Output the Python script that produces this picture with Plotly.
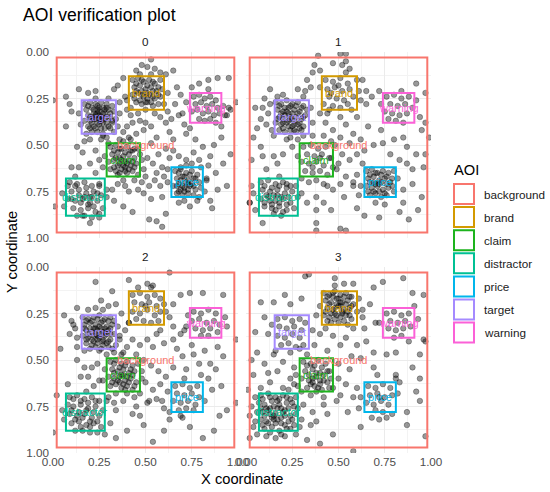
import plotly.graph_objects as go

# AOI definitions (same boxes in every panel)
aoi_names = ["background", "brand", "claim", "distractor", "price", "target", "warning"]
aoi_colors = ["#F8766D", "#D49A00", "#1DB31D", "#00C094", "#00B6EB", "#A58AFF", "#FB61D7"]
aoi_xmin = [0.02, 0.41, 0.29, 0.07, 0.64, 0.155, 0.74]
aoi_xmax = [0.98, 0.60, 0.47, 0.28, 0.81, 0.34, 0.91]
aoi_ymin = [0.03, 0.13, 0.49, 0.68, 0.62, 0.26, 0.22]
aoi_ymax = [0.97, 0.31, 0.67, 0.88, 0.78, 0.44, 0.38]

panel_names = ["0", "1", "2", "3"]
tick_vals = [0, 0.25, 0.5, 0.75, 1]
tick_text = ["0.00", "0.25", "0.50", "0.75", "1.00"]

# fixations per panel, (x, y)
fix_0 = [
    # target
    (0.17,0.28),(0.20,0.27),(0.23,0.28),(0.26,0.27),(0.29,0.28),(0.32,0.29),(0.18,0.31),(0.21,0.30),(0.24,0.31),(0.27,0.30),
    (0.30,0.31),(0.33,0.32),(0.19,0.34),(0.22,0.33),(0.25,0.34),(0.28,0.33),(0.31,0.35),(0.34,0.36),(0.17,0.37),(0.20,0.37),
    (0.23,0.36),(0.26,0.37),(0.29,0.38),(0.32,0.38),(0.19,0.40),(0.22,0.40),(0.25,0.39),(0.28,0.41),(0.31,0.41),(0.24,0.43),
    (0.27,0.44),(0.21,0.43),(0.36,0.33),(0.35,0.40),(0.14,0.33),(0.15,0.39),(0.24,0.33),(0.26,0.35),(0.22,0.36),(0.28,0.36),
    (0.25,0.30),(0.23,0.25),(0.30,0.25),(0.33,0.43),(0.18,0.44),(0.29,0.46),(0.26,0.47),
    (0.19,0.29),(0.22,0.31),(0.25,0.32),(0.28,0.31),(0.31,0.33),(0.20,0.35),(0.23,0.34),(0.26,0.36),(0.29,0.35),(0.32,0.37),
    (0.21,0.38),(0.24,0.38),(0.27,0.38),(0.30,0.40),(0.23,0.41),(0.26,0.41),(0.20,0.41),(0.29,0.30),(0.24,0.29),(0.27,0.33),
    (0.22,0.35),(0.25,0.36),
    # brand
    (0.43,0.15),(0.46,0.14),(0.49,0.16),(0.52,0.15),(0.55,0.17),(0.58,0.15),(0.44,0.19),(0.47,0.18),(0.50,0.20),(0.53,0.19),
    (0.56,0.21),(0.59,0.20),(0.43,0.23),(0.46,0.22),(0.49,0.24),(0.52,0.23),(0.55,0.25),(0.58,0.24),(0.45,0.27),(0.48,0.28),
    (0.51,0.27),(0.54,0.29),(0.57,0.28),(0.42,0.30),(0.50,0.31),(0.47,0.12),(0.53,0.12),(0.62,0.22),(0.40,0.26),(0.51,0.22),
    (0.48,0.21),(0.54,0.24),(0.60,0.28),(0.46,0.33),(0.55,0.33),(0.62,0.32),
    (0.45,0.17),(0.48,0.15),(0.51,0.18),(0.54,0.16),(0.57,0.19),(0.45,0.21),(0.48,0.23),(0.51,0.25),(0.54,0.21),(0.57,0.23),
    (0.47,0.26),(0.50,0.27),(0.53,0.27),(0.44,0.25),
    # warning
    (0.76,0.24),(0.79,0.23),(0.82,0.25),(0.85,0.24),(0.88,0.26),(0.77,0.28),(0.80,0.27),(0.83,0.29),(0.86,0.28),(0.89,0.30),
    (0.92,0.29),(0.75,0.32),(0.78,0.31),(0.81,0.33),(0.84,0.32),(0.87,0.34),(0.90,0.33),(0.79,0.36),(0.82,0.37),(0.85,0.36),
    (0.72,0.27),(0.93,0.34),(0.84,0.20),(0.70,0.33),(0.96,0.31),(0.88,0.38),
    # claim
    (0.31,0.51),(0.34,0.50),(0.37,0.52),(0.40,0.51),(0.43,0.53),(0.46,0.52),(0.32,0.55),(0.35,0.54),(0.38,0.56),(0.41,0.55),
    (0.44,0.57),(0.30,0.59),(0.33,0.58),(0.36,0.60),(0.39,0.59),(0.42,0.61),(0.45,0.60),(0.31,0.63),(0.34,0.64),(0.37,0.63),
    (0.40,0.65),(0.43,0.64),(0.46,0.66),(0.36,0.57),(0.39,0.62),(0.41,0.58),(0.35,0.66),(0.48,0.58),(0.28,0.56),(0.38,0.69),
    (0.44,0.69),(0.49,0.63),(0.27,0.62),(0.38,0.48),(0.42,0.47),
    (0.33,0.53),(0.36,0.52),(0.39,0.54),(0.42,0.53),(0.34,0.57),(0.37,0.58),(0.40,0.60),(0.43,0.59),(0.35,0.61),(0.38,0.61),
    (0.41,0.63),(0.44,0.62),(0.33,0.62),(0.39,0.64),(0.36,0.65),
    # price
    (0.66,0.64),(0.69,0.63),(0.72,0.65),(0.75,0.64),(0.78,0.66),(0.67,0.68),(0.70,0.67),(0.73,0.69),(0.76,0.68),(0.79,0.70),
    (0.65,0.72),(0.68,0.71),(0.71,0.73),(0.74,0.72),(0.77,0.74),(0.80,0.73),(0.67,0.76),(0.70,0.77),(0.73,0.76),(0.76,0.77),
    (0.72,0.61),(0.75,0.60),(0.62,0.70),(0.83,0.68),(0.82,0.75),(0.71,0.80),(0.78,0.80),(0.73,0.71),(0.69,0.74),
    (0.68,0.65),(0.71,0.67),(0.74,0.66),(0.77,0.68),(0.69,0.69),(0.72,0.70),(0.75,0.71),(0.70,0.72),(0.73,0.74),(0.76,0.72),
    (0.68,0.75),(0.71,0.75),
    # distractor
    (0.09,0.70),(0.13,0.71),(0.17,0.70),(0.21,0.72),(0.25,0.71),(0.10,0.75),(0.14,0.74),(0.18,0.76),(0.22,0.75),(0.26,0.77),
    (0.08,0.79),(0.12,0.80),(0.16,0.79),(0.20,0.81),(0.24,0.80),(0.11,0.84),(0.15,0.85),(0.19,0.84),(0.23,0.86),(0.27,0.84),
    (0.17,0.88),(0.21,0.89),(0.06,0.83),(0.29,0.74),(0.12,0.67),(0.20,0.78),(0.25,0.89),(0.13,0.88),
    (0.14,0.77),(0.17,0.78),(0.21,0.78),(0.15,0.81),(0.19,0.82),(0.22,0.83),(0.12,0.72),(0.18,0.73),(0.24,0.76),(0.10,0.79),
    # background
    (0.53,0.04),(0.48,0.07),(0.51,0.08),(0.55,0.09),(0.58,0.11),(0.45,0.10),(0.65,0.10),(0.61,0.12),(0.38,0.14),(0.35,0.18),
    (0.33,0.20),(0.84,0.15),(0.89,0.14),(0.95,0.14),(0.79,0.17),(0.75,0.19),(0.67,0.19),(0.69,0.23),(0.99,0.27),(0.95,0.30),
    (0.94,0.34),(0.91,0.40),(0.00,0.26),(0.07,0.24),(0.09,0.28),(0.14,0.20),(0.19,0.22),(0.23,0.21),(0.07,0.40),(0.10,0.32),
    (0.40,0.31),(0.42,0.34),(0.47,0.37),(0.50,0.38),(0.49,0.42),(0.53,0.40),(0.58,0.35),(0.61,0.38),(0.63,0.43),(0.65,0.47),
    (0.56,0.46),(0.53,0.49),(0.45,0.44),(0.41,0.46),(0.38,0.43),(0.36,0.47),(0.72,0.44),(0.77,0.47),(0.81,0.51),(0.87,0.50),
    (0.91,0.46),(0.96,0.55),(0.85,0.56),(0.79,0.58),(0.76,0.54),(0.72,0.58),(0.68,0.56),(0.65,0.53),(0.88,0.65),(0.83,0.69),
    (0.85,0.80),(0.89,0.74),(0.94,0.72),(0.13,0.51),(0.16,0.54),(0.20,0.60),(0.14,0.62),(0.10,0.62),(0.23,0.53),(0.25,0.58),
    (0.23,0.65),(0.25,0.72),(0.29,0.78),(0.32,0.74),(0.33,0.80),(0.01,0.83),(0.05,0.76),(0.08,0.72),(0.38,0.83),(0.43,0.86),
    (0.52,0.90),(0.56,0.91),(0.59,0.94),(0.61,0.87),(0.68,0.81),(0.74,0.83),(0.79,0.78),(0.20,0.92),(0.25,0.87),(0.16,0.88),
    (0.67,0.72),(0.59,0.78),(0.58,0.72),(0.52,0.72),(0.49,0.76),(0.56,0.65),(0.50,0.67),(0.59,0.62),(0.44,0.52),(0.47,0.55),
    (0.51,0.57),(0.54,0.60),(0.57,0.55),(0.61,0.52),(0.63,0.57),(0.60,0.67),(0.55,0.69),(0.48,0.70),(0.46,0.74),(0.53,0.79),
    (0.41,0.75),(0.39,0.72),(0.35,0.71),(0.27,0.45),(0.30,0.49),(0.20,0.47),(0.17,0.48),(0.40,0.40),(0.43,0.38),(0.36,0.27),
    (0.39,0.24),(0.66,0.28),(0.71,0.39),(0.74,0.41),(0.68,0.34),(0.64,0.36),(0.69,0.62),(0.62,0.63),(0.84,0.61),(0.80,0.62),
    (0.92,0.60),(0.86,0.84),
]

fix_1 = [
    # target
    (0.16,0.27),(0.19,0.28),(0.22,0.26),(0.25,0.28),(0.28,0.27),(0.31,0.29),(0.17,0.31),(0.20,0.32),(0.23,0.30),(0.26,0.31),
    (0.29,0.32),(0.33,0.31),(0.18,0.35),(0.21,0.34),(0.24,0.36),(0.27,0.35),(0.30,0.36),(0.32,0.34),(0.16,0.38),(0.19,0.39),
    (0.22,0.38),(0.25,0.40),(0.28,0.39),(0.31,0.40),(0.18,0.42),(0.21,0.43),(0.24,0.42),(0.27,0.43),(0.30,0.42),(0.23,0.33),
    (0.26,0.37),(0.20,0.36),(0.09,0.30),(0.12,0.33),(0.08,0.36),(0.11,0.39),(0.13,0.28),(0.14,0.42),(0.10,0.25),(0.20,0.23),
    (0.17,0.24),(0.35,0.30),(0.36,0.38),(0.24,0.46),(0.15,0.45),(0.06,0.41),
    (0.18,0.29),(0.21,0.30),(0.24,0.29),(0.27,0.29),(0.30,0.30),(0.19,0.33),(0.22,0.32),(0.25,0.33),(0.28,0.33),(0.31,0.35),
    (0.17,0.36),(0.20,0.38),(0.23,0.37),(0.26,0.39),(0.29,0.38),(0.20,0.41),(0.23,0.40),(0.26,0.42),(0.29,0.41),(0.24,0.35),
    # brand
    (0.43,0.15),(0.47,0.16),(0.51,0.14),(0.55,0.17),(0.44,0.20),(0.48,0.19),(0.52,0.21),(0.56,0.20),(0.58,0.24),(0.45,0.24),
    (0.49,0.25),(0.53,0.26),(0.42,0.28),(0.47,0.29),(0.51,0.30),(0.55,0.28),(0.50,0.18),(0.46,0.22),(0.60,0.15),(0.62,0.26),
    (0.40,0.19),(0.57,0.31),(0.44,0.33),
    # warning
    (0.76,0.24),(0.80,0.23),(0.84,0.25),(0.88,0.24),(0.78,0.28),(0.82,0.29),(0.86,0.28),(0.90,0.30),(0.75,0.32),(0.79,0.33),
    (0.83,0.34),(0.87,0.33),(0.81,0.37),(0.85,0.38),(0.77,0.36),(0.92,0.26),(0.73,0.28),(0.84,0.21),
    # claim
    (0.31,0.51),(0.35,0.50),(0.39,0.52),(0.43,0.51),(0.33,0.55),(0.37,0.56),(0.41,0.55),(0.45,0.57),(0.30,0.59),(0.34,0.60),
    (0.38,0.59),(0.42,0.61),(0.32,0.64),(0.36,0.65),(0.40,0.64),(0.44,0.66),(0.38,0.69),(0.34,0.70),(0.42,0.71),(0.47,0.62),
    (0.28,0.56),(0.46,0.48),(0.30,0.68),(0.36,0.62),(0.40,0.57),
    # price
    (0.65,0.64),(0.68,0.63),(0.71,0.65),(0.74,0.64),(0.77,0.65),(0.80,0.64),(0.66,0.68),(0.69,0.67),(0.72,0.69),(0.75,0.68),
    (0.78,0.70),(0.65,0.72),(0.68,0.73),(0.71,0.72),(0.74,0.74),(0.77,0.73),(0.80,0.75),(0.67,0.77),(0.70,0.76),(0.73,0.78),
    (0.76,0.77),(0.72,0.71),(0.69,0.70),(0.60,0.66),(0.62,0.72),(0.58,0.70),(0.61,0.77),(0.70,0.81),(0.75,0.82),(0.82,0.68),
    (0.63,0.60),
    (0.67,0.66),(0.70,0.65),(0.73,0.66),(0.76,0.67),(0.79,0.68),(0.67,0.70),(0.70,0.71),(0.73,0.70),(0.76,0.71),(0.79,0.72),
    (0.69,0.75),(0.72,0.75),(0.75,0.76),(0.66,0.75),
    # distractor
    (0.08,0.70),(0.12,0.69),(0.16,0.71),(0.20,0.70),(0.24,0.72),(0.09,0.74),(0.13,0.75),(0.17,0.74),(0.21,0.76),(0.25,0.75),
    (0.08,0.79),(0.12,0.78),(0.16,0.80),(0.20,0.79),(0.24,0.81),(0.10,0.83),(0.14,0.84),(0.18,0.83),(0.22,0.85),(0.26,0.84),
    (0.15,0.87),(0.19,0.88),(0.04,0.76),(0.02,0.81),(0.05,0.85),(0.03,0.72),(0.28,0.78),(0.17,0.77),(0.13,0.80),(0.22,0.73),
    (0.10,0.72),(0.14,0.73),(0.18,0.72),(0.22,0.71),(0.11,0.77),(0.15,0.77),(0.19,0.78),(0.23,0.78),(0.10,0.81),(0.14,0.82),
    (0.18,0.81),(0.22,0.82),(0.16,0.85),(0.20,0.86),
    # background
    (0.39,0.02),(0.51,0.01),(0.54,0.01),(0.54,0.05),(0.52,0.07),(0.47,0.06),(0.37,0.07),(0.40,0.10),(0.56,0.09),(0.54,0.11),
    (0.36,0.11),(0.33,0.15),(0.35,0.19),(0.32,0.21),(0.40,0.33),(0.45,0.31),(0.51,0.35),(0.54,0.39),(0.60,0.35),(0.61,0.21),
    (0.63,0.15),(0.65,0.21),(0.68,0.24),(0.65,0.28),(0.72,0.21),(0.94,0.35),(0.97,0.38),(0.99,0.46),(0.95,0.42),(0.47,0.42),
    (0.51,0.46),(0.56,0.49),(0.62,0.47),(0.69,0.50),(0.74,0.49),(0.80,0.47),(0.85,0.46),(0.87,0.51),(0.92,0.55),(0.97,0.55),
    (0.96,0.62),(0.90,0.63),(0.04,0.46),(0.09,0.56),(0.15,0.56),(0.20,0.55),(0.17,0.60),(0.11,0.63),(0.18,0.67),(0.08,0.51),
    (0.22,0.47),(0.49,0.63),(0.51,0.71),(0.54,0.67),(0.58,0.72),(0.53,0.78),(0.47,0.74),(0.44,0.72),(0.38,0.78),(0.42,0.81),
    (0.38,0.85),(0.51,0.95),(0.54,0.96),(0.38,0.92),(0.38,0.96),(0.85,0.81),(0.83,0.86),(0.72,0.89),(0.90,0.71),(0.95,0.78),
    (0.85,0.74),(0.09,0.92),(0.02,0.81),(0.43,0.38),(0.48,0.50),(0.52,0.55),(0.56,0.58),(0.60,0.55),(0.64,0.53),(0.46,0.57),
    (0.50,0.60),(0.28,0.47),(0.31,0.45),(0.25,0.51),(0.36,0.45),(0.42,0.45),(0.58,0.44),(0.66,0.40),(0.73,0.42),(0.78,0.55),
    (0.83,0.58),(0.87,0.60),(0.27,0.72),(0.30,0.76),(0.33,0.81),(0.46,0.85),(0.60,0.84),(0.64,0.88),(0.88,0.90),(0.93,0.85),
    (0.31,0.24),(0.28,0.20),(0.13,0.20),(0.05,0.30),(0.03,0.58),(0.92,0.17),(0.97,0.22),
]

fix_2 = [
    # target
    (0.16,0.27),(0.19,0.28),(0.22,0.27),(0.25,0.26),(0.28,0.28),(0.31,0.27),(0.33,0.29),(0.17,0.31),(0.20,0.30),(0.23,0.31),
    (0.26,0.30),(0.29,0.32),(0.32,0.31),(0.18,0.34),(0.21,0.35),(0.24,0.34),(0.27,0.35),(0.30,0.34),(0.33,0.36),(0.16,0.37),
    (0.19,0.38),(0.22,0.37),(0.25,0.38),(0.28,0.37),(0.31,0.39),(0.18,0.41),(0.21,0.42),(0.24,0.41),(0.27,0.42),(0.30,0.43),
    (0.23,0.33),(0.26,0.33),(0.24,0.37),(0.27,0.39),(0.20,0.33),(0.29,0.36),(0.22,0.40),(0.10,0.29),(0.12,0.33),(0.09,0.36),
    (0.13,0.38),(0.11,0.31),(0.19,0.23),(0.23,0.22),(0.27,0.23),(0.30,0.21),(0.35,0.32),(0.36,0.37),(0.34,0.42),(0.25,0.45),
    (0.17,0.45),(0.13,0.43),
    (0.18,0.29),(0.21,0.29),(0.24,0.28),(0.27,0.29),(0.30,0.29),(0.17,0.33),(0.22,0.33),(0.25,0.32),(0.28,0.33),(0.31,0.33),
    (0.19,0.36),(0.23,0.36),(0.26,0.36),(0.28,0.35),(0.31,0.36),(0.18,0.39),(0.21,0.39),(0.24,0.39),(0.27,0.40),(0.30,0.40),
    (0.20,0.44),(0.23,0.43),(0.26,0.44),(0.29,0.41),
    # brand
    (0.43,0.15),(0.47,0.14),(0.51,0.16),(0.55,0.15),(0.58,0.17),(0.44,0.19),(0.48,0.20),(0.52,0.19),(0.56,0.21),(0.43,0.24),
    (0.47,0.25),(0.51,0.23),(0.55,0.26),(0.58,0.24),(0.45,0.28),(0.49,0.29),(0.53,0.30),(0.57,0.29),(0.50,0.21),(0.46,0.11),
    (0.53,0.11),(0.60,0.20),(0.41,0.30),
    # warning
    (0.76,0.24),(0.80,0.25),(0.84,0.23),(0.88,0.25),(0.75,0.29),(0.79,0.28),(0.83,0.30),(0.87,0.29),(0.90,0.31),(0.77,0.33),
    (0.81,0.34),(0.85,0.33),(0.89,0.35),(0.80,0.37),(0.84,0.37),(0.72,0.32),(0.73,0.26),(0.93,0.27),
    # claim
    (0.31,0.51),(0.34,0.50),(0.37,0.52),(0.40,0.51),(0.43,0.53),(0.46,0.52),(0.32,0.55),(0.35,0.56),(0.38,0.55),(0.41,0.57),
    (0.44,0.56),(0.30,0.59),(0.33,0.60),(0.36,0.59),(0.39,0.61),(0.42,0.60),(0.45,0.62),(0.31,0.64),(0.34,0.63),(0.37,0.65),
    (0.40,0.64),(0.43,0.66),(0.38,0.58),(0.36,0.62),(0.40,0.68),(0.34,0.68),(0.28,0.55),(0.27,0.61),(0.48,0.60),(0.37,0.47),
    (0.33,0.46),(0.44,0.70),(0.30,0.70),
    (0.33,0.52),(0.36,0.54),(0.39,0.53),(0.42,0.55),(0.33,0.57),(0.37,0.58),(0.40,0.59),(0.43,0.58),(0.35,0.61),(0.38,0.63),
    (0.41,0.62),(0.44,0.64),(0.32,0.62),(0.39,0.66),
    # price
    (0.66,0.64),(0.70,0.63),(0.74,0.65),(0.78,0.64),(0.67,0.68),(0.71,0.69),(0.75,0.68),(0.79,0.70),(0.65,0.72),(0.69,0.73),
    (0.73,0.72),(0.77,0.74),(0.68,0.77),(0.72,0.76),(0.76,0.77),(0.62,0.67),(0.59,0.72),(0.63,0.78),(0.71,0.60),(0.82,0.72),
    (0.70,0.81),
    # distractor
    (0.09,0.70),(0.13,0.69),(0.17,0.71),(0.21,0.70),(0.25,0.72),(0.08,0.74),(0.11,0.75),(0.15,0.74),(0.19,0.76),(0.23,0.75),
    (0.27,0.77),(0.09,0.79),(0.13,0.80),(0.17,0.79),(0.21,0.81),(0.25,0.80),(0.10,0.84),(0.14,0.83),(0.18,0.85),(0.22,0.84),
    (0.26,0.86),(0.16,0.88),(0.20,0.89),(0.12,0.88),(0.05,0.77),(0.06,0.82),(0.29,0.72),(0.18,0.67),(0.24,0.89),
    (0.11,0.71),(0.15,0.72),(0.19,0.73),(0.23,0.72),(0.10,0.77),(0.14,0.78),(0.18,0.77),(0.22,0.78),(0.12,0.82),(0.16,0.81),
    (0.20,0.83),(0.24,0.83),(0.15,0.86),(0.20,0.86),
    # background
    (0.63,0.03),(0.41,0.07),(0.23,0.08),(0.51,0.09),(0.54,0.10),(0.69,0.15),(0.74,0.14),(0.81,0.14),(0.92,0.15),(0.32,0.13),
    (0.26,0.18),(0.34,0.20),(0.65,0.20),(0.61,0.24),(0.04,0.44),(0.36,0.39),(0.40,0.43),(0.38,0.46),(0.43,0.39),(0.47,0.42),
    (0.51,0.39),(0.54,0.43),(0.60,0.41),(0.65,0.39),(0.69,0.36),(0.71,0.34),(0.65,0.32),(0.94,0.32),(0.99,0.39),(0.89,0.43),
    (0.70,0.48),(0.76,0.47),(0.79,0.52),(0.85,0.52),(0.88,0.55),(0.72,0.55),(0.65,0.54),(0.61,0.59),(0.58,0.63),(0.54,0.66),
    (0.52,0.72),(0.47,0.80),(0.51,0.73),(0.13,0.50),(0.17,0.54),(0.21,0.54),(0.24,0.52),(0.19,0.59),(0.15,0.59),(0.08,0.63),
    (0.02,0.69),(0.22,0.64),(0.25,0.61),(0.54,0.94),(0.60,0.88),(0.63,0.82),(0.69,0.80),(0.74,0.86),(0.81,0.92),(0.87,0.88),
    (0.90,0.80),(0.94,0.77),(0.99,0.73),(0.43,0.79),(0.40,0.88),(0.34,0.77),(0.31,0.84),(0.00,0.89),(0.45,0.47),(0.49,0.50),
    (0.53,0.53),(0.57,0.56),(0.48,0.56),(0.50,0.62),(0.56,0.71),(0.60,0.76),(0.47,0.68),(0.45,0.75),(0.38,0.72),(0.33,0.73),
    (0.29,0.47),(0.32,0.44),(0.39,0.34),(0.41,0.30),(0.63,0.27),(0.58,0.34),(0.67,0.44),(0.75,0.42),(0.82,0.45),(0.92,0.48),
    (0.84,0.60),(0.80,0.58),(0.86,0.66),(0.91,0.64),(0.06,0.26),(0.13,0.22),(0.37,0.25),(0.56,0.36),(0.28,0.90),(0.34,0.92),
    (0.49,0.85),
]

fix_3 = [
    # brand
    (0.42,0.14),(0.45,0.15),(0.48,0.13),(0.51,0.15),(0.54,0.14),(0.57,0.16),(0.43,0.18),(0.46,0.19),(0.49,0.17),(0.52,0.19),
    (0.55,0.18),(0.58,0.20),(0.44,0.22),(0.47,0.23),(0.50,0.21),(0.53,0.23),(0.56,0.22),(0.42,0.26),(0.45,0.27),(0.48,0.25),
    (0.51,0.27),(0.54,0.26),(0.57,0.28),(0.46,0.30),(0.50,0.30),(0.55,0.31),(0.49,0.20),(0.52,0.24),(0.47,0.16),(0.60,0.24),
    (0.61,0.17),(0.40,0.21),(0.48,0.10),(0.53,0.09),(0.58,0.33),(0.43,0.33),
    (0.44,0.16),(0.47,0.14),(0.50,0.17),(0.53,0.16),(0.56,0.16),(0.45,0.20),(0.48,0.22),(0.51,0.21),(0.54,0.20),(0.57,0.21),
    (0.43,0.24),(0.46,0.25),(0.49,0.26),(0.52,0.25),(0.55,0.24),(0.48,0.28),(0.53,0.29),(0.56,0.26),(0.44,0.29),(0.51,0.19),
    # target
    (0.17,0.28),(0.21,0.27),(0.25,0.29),(0.29,0.28),(0.32,0.30),(0.18,0.32),(0.22,0.33),(0.26,0.32),(0.30,0.34),(0.17,0.37),
    (0.21,0.38),(0.25,0.36),(0.29,0.38),(0.19,0.42),(0.23,0.41),(0.27,0.43),(0.31,0.42),(0.14,0.31),(0.12,0.36),(0.36,0.34),
    (0.24,0.46),(0.16,0.45),
    # warning
    (0.76,0.25),(0.80,0.24),(0.84,0.26),(0.88,0.25),(0.78,0.29),(0.82,0.30),(0.86,0.29),(0.77,0.33),(0.81,0.34),(0.85,0.33),
    (0.89,0.32),(0.80,0.38),(0.84,0.37),(0.72,0.30),(0.93,0.28),(0.88,0.40),
    # claim
    (0.31,0.51),(0.35,0.52),(0.39,0.50),(0.43,0.52),(0.32,0.56),(0.36,0.55),(0.40,0.57),(0.44,0.56),(0.30,0.60),(0.34,0.61),
    (0.38,0.59),(0.42,0.61),(0.46,0.60),(0.33,0.65),(0.37,0.64),(0.41,0.66),(0.45,0.65),(0.36,0.62),(0.40,0.63),(0.38,0.67),
    (0.27,0.58),(0.26,0.54),(0.28,0.64),(0.35,0.69),(0.42,0.70),
    (0.33,0.53),(0.37,0.53),(0.41,0.54),(0.34,0.58),(0.38,0.57),(0.42,0.58),(0.36,0.60),(0.40,0.61),(0.44,0.62),(0.35,0.63),
    (0.39,0.65),
    # price
    (0.66,0.64),(0.70,0.65),(0.74,0.63),(0.78,0.65),(0.67,0.69),(0.71,0.68),(0.75,0.70),(0.79,0.69),(0.65,0.73),(0.69,0.74),
    (0.73,0.72),(0.77,0.74),(0.70,0.77),(0.74,0.78),(0.72,0.70),(0.62,0.70),(0.60,0.65),(0.83,0.62),(0.82,0.68),(0.61,0.76),
    (0.68,0.81),(0.79,0.79),
    # distractor
    (0.08,0.69),(0.12,0.68),(0.16,0.70),(0.20,0.69),(0.24,0.71),(0.27,0.70),(0.07,0.73),(0.10,0.74),(0.14,0.72),(0.18,0.74),
    (0.22,0.73),(0.26,0.75),(0.09,0.78),(0.12,0.77),(0.16,0.79),(0.20,0.78),(0.24,0.80),(0.27,0.79),(0.08,0.82),(0.11,0.83),
    (0.15,0.82),(0.19,0.84),(0.23,0.83),(0.26,0.85),(0.10,0.87),(0.14,0.86),(0.18,0.88),(0.22,0.87),(0.13,0.76),(0.17,0.76),
    (0.21,0.77),(0.15,0.80),(0.19,0.81),(0.13,0.79),(0.17,0.72),(0.05,0.70),(0.03,0.75),(0.02,0.80),(0.04,0.86),(0.06,0.90),
    (0.11,0.91),(0.16,0.92),(0.21,0.91),(0.27,0.90),(0.30,0.82),(0.31,0.74),(0.30,0.67),(0.23,0.66),(0.01,0.66),(0.02,0.92),
    (0.29,0.86),
    (0.09,0.71),(0.13,0.70),(0.18,0.71),(0.22,0.70),(0.25,0.73),(0.08,0.76),(0.11,0.76),(0.15,0.75),(0.19,0.76),(0.23,0.76),
    (0.10,0.80),(0.14,0.81),(0.17,0.82),(0.21,0.80),(0.25,0.82),(0.12,0.84),(0.16,0.84),(0.21,0.85),(0.09,0.85),(0.24,0.87),
    (0.13,0.89),(0.19,0.90),(0.06,0.78),(0.05,0.83),(0.28,0.76),
    # background
    (0.32,0.05),(0.34,0.04),(0.48,0.06),(0.58,0.09),(0.69,0.11),(0.74,0.08),(0.85,0.06),(0.90,0.14),(0.96,0.15),(0.30,0.17),
    (0.24,0.20),(0.15,0.19),(0.08,0.19),(0.63,0.23),(0.63,0.27),(0.67,0.20),(0.96,0.39),(0.47,0.37),(0.51,0.42),(0.54,0.38),
    (0.60,0.42),(0.65,0.40),(0.69,0.46),(0.76,0.47),(0.81,0.46),(0.62,0.49),(0.69,0.54),(0.71,0.58),(0.81,0.58),(0.90,0.54),
    (0.94,0.47),(0.97,0.40),(0.92,0.67),(0.06,0.46),(0.15,0.47),(0.20,0.51),(0.17,0.56),(0.24,0.60),(0.13,0.62),(0.04,0.58),
    (0.20,0.65),(0.26,0.63),(0.08,0.65),(0.47,0.65),(0.51,0.69),(0.54,0.63),(0.49,0.72),(0.42,0.74),(0.36,0.78),(0.38,0.83),
    (0.35,0.85),(0.44,0.79),(0.81,0.60),(0.72,0.82),(0.76,0.81),(0.94,0.72),(0.87,0.78),(0.58,0.99),(0.40,0.36),(0.37,0.42),
    (0.33,0.47),(0.29,0.44),(0.44,0.45),(0.50,0.52),(0.56,0.55),(0.57,0.48),(0.45,0.56),(0.50,0.60),(0.58,0.70),(0.55,0.78),
    (0.62,0.86),(0.47,0.90),(0.33,0.93),(0.40,0.95),(0.10,0.52),(0.03,0.50),(0.12,0.57),(0.38,0.26),(0.64,0.33),(0.70,0.30),
    (0.91,0.21),(0.94,0.60),(0.87,0.85),(0.97,0.91),(0.21,0.15),(0.10,0.27),(0.05,0.35),
]

panel_fix = [fix_0, fix_1, fix_2, fix_3]

W, H = 550, 492
col_px = [(53, 238), (246, 431)]
row_px = [(52, 238), (267, 453)]
FONT = "Liberation Sans, Arial, sans-serif"


def px_x(p):
    return p / W


def px_y(p):
    return 1 - p / H


fig = go.Figure()
shapes = []
annotations = []
axes = {}

for i, name in enumerate(panel_names):
    r, c = i // 2, i % 2
    sfx = "" if i == 0 else str(i + 1)
    xr, yr = "x" + sfx, "y" + sfx
    pts = panel_fix[i]
    fig.add_trace(go.Scatter(
        x=[p[0] for p in pts], y=[p[1] for p in pts],
        mode="markers", xaxis=xr, yaxis=yr, showlegend=False, hoverinfo="skip",
        marker=dict(size=5.5, color="rgba(0,0,0,0.4)",
                    line=dict(width=0.6, color="rgba(0,0,0,0.5)")),
    ))

    common = dict(
        tickvals=tick_vals, ticktext=tick_text, autorange=False, automargin=False,
        ticks="", showline=False, zeroline=False,
        showgrid=True, gridcolor="#EBEBEB", gridwidth=1,
        minor=dict(tickvals=[0.125, 0.375, 0.625, 0.875], showgrid=True,
                   gridcolor="#F3F3F3", gridwidth=0.6),
        tickfont=dict(size=11.7, color="#4D4D4D", family=FONT),
    )
    axes["xaxis" + sfx] = dict(
        domain=[px_x(col_px[c][0]), px_x(col_px[c][1])], anchor=yr,
        range=[0, 1], showticklabels=(r == 1), **common,
    )
    axes["yaxis" + sfx] = dict(
        domain=[px_y(row_px[r][1]), px_y(row_px[r][0])], anchor=xr,
        range=[1, 0], showticklabels=(c == 0), ticklabelstandoff=3, **common,
    )

    for k, aoi in enumerate(aoi_names):
        shapes.append(dict(type="rect", xref=xr, yref=yr,
                           x0=aoi_xmin[k], x1=aoi_xmax[k], y0=aoi_ymin[k], y1=aoi_ymax[k],
                           line=dict(color=aoi_colors[k], width=2),
                           fillcolor="rgba(0,0,0,0)", layer="above"))
        annotations.append(dict(xref=xr, yref=yr,
                                x=(aoi_xmin[k] + aoi_xmax[k]) / 2, y=(aoi_ymin[k] + aoi_ymax[k]) / 2,
                                text=aoi, showarrow=False,
                                font=dict(size=11, color=aoi_colors[k], family=FONT)))

    # strip label
    annotations.append(dict(xref="paper", yref="paper",
                            x=px_x((col_px[c][0] + col_px[c][1]) / 2), y=px_y(row_px[r][0] - 11),
                            text=name, showarrow=False, xanchor="center", yanchor="middle",
                            font=dict(size=11.7, color="#1A1A1A", family=FONT)))

# title and axis titles
annotations.append(dict(xref="paper", yref="paper", x=px_x(21), y=px_y(15),
                        text="AOI verification plot", showarrow=False,
                        xanchor="left", yanchor="middle",
                        font=dict(size=17.6, color="black", family=FONT)))
annotations.append(dict(xref="paper", yref="paper", x=px_x(242), y=px_y(479),
                        text="X coordinate", showarrow=False,
                        xanchor="center", yanchor="middle",
                        font=dict(size=14.7, color="black", family=FONT)))
annotations.append(dict(xref="paper", yref="paper", x=px_x(12), y=px_y(252),
                        text="Y coordinate", showarrow=False, textangle=-90,
                        xanchor="center", yanchor="middle",
                        font=dict(size=14.7, color="black", family=FONT)))

# legend drawn by hand
annotations.append(dict(xref="paper", yref="paper", x=px_x(452), y=px_y(170),
                        text="AOI", showarrow=False, xanchor="left", yanchor="middle",
                        font=dict(size=14.7, color="black", family=FONT)))
for k, aoi in enumerate(aoi_names):
    top = 184 + k * 23.1
    shapes.append(dict(type="rect", xref="paper", yref="paper",
                       x0=px_x(454), x1=px_x(474), y0=px_y(top + 20), y1=px_y(top),
                       line=dict(color=aoi_colors[k], width=2),
                       fillcolor="rgba(0,0,0,0)"))
    annotations.append(dict(xref="paper", yref="paper", x=px_x(482), y=px_y(top + 10),
                            text=aoi, showarrow=False, xanchor="left", yanchor="middle",
                            font=dict(size=11.7, color="#1A1A1A", family=FONT)))

fig.update_layout(
    width=W, height=H, autosize=False,
    margin=dict(l=0, r=0, t=0, b=0, autoexpand=False),
    paper_bgcolor="white", plot_bgcolor="white",
    font=dict(family=FONT),
    shapes=shapes, annotations=annotations,
    **axes,
)

# the page body has a default 8px margin; drop it so the figure sits at the window origin
fig.write_html("out.html", config={"displayModeBar": False},
               post_script="document.body.style.margin='0';")
